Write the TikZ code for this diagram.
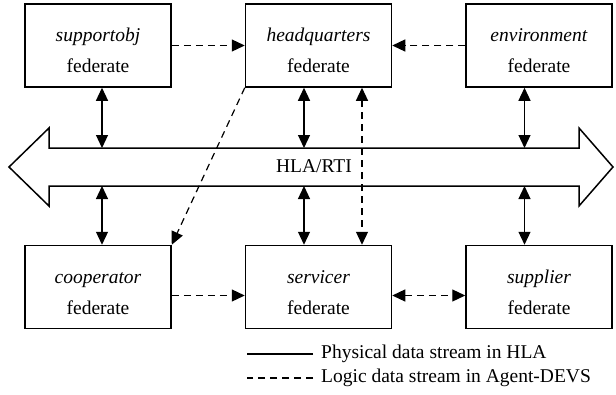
\documentclass[tikz,border=0pt]{standalone}
\usepackage{fontspec}
\setmainfont{Liberation Serif}
\usetikzlibrary{arrows.meta,calc,positioning}
\newcommand{\fedsize}{\fontsize{19.5}{31}\selectfont}
\tikzset{
 >={Triangle[length=13pt,width=12pt]},
 every node/.append style={font=\fedsize,align=center},
 fed/.style={draw,line width=1.5pt,minimum width=146pt,minimum height=83pt,inner sep=0pt,text height=54.7pt},
 phys/.style={<->,line width=1.2pt},
 logic/.style={->,line width=1.2pt,dash pattern=on 7pt off 5pt},
 bus/.style={draw,line width=1.5pt,line join=miter},
 legend/.style={anchor=west,inner sep=0pt},
}

\begin{document}
\begin{tikzpicture}[x=1pt,y=-1pt]

\useasboundingbox (0,0) rectangle (616,394);

% federates
\node[fed] (sup) at (98,45.5) {\textit{supportobj}\\federate};
\node[fed,right=73pt of sup] (hq) {\textit{headquarters}\\federate};
\node[fed,right=73pt of hq] (env) {\textit{environment}\\federate};
\node[fed,below=157pt of sup] (coop) {\textit{cooperator}\\federate};
\node[fed,below=157pt of hq] (serv) {\textit{servicer}\\federate};
\node[fed,below=157pt of env] (supl) {\textit{supplier}\\federate};

% HLA/RTI bus
\draw[bus] (9,167) -- (49,128) -- (49,148) coordinate (bandtop) -- (579,148) -- (579,128) -- (613,167)
  -- (579,206) -- (579,186) -- (49,186) coordinate (bandbot) -- (49,206) -- cycle;
\node (rti) at (314,166.5) {HLA/RTI};

% physical streams
\foreach \n/\d in {sup/4,hq/-14.5,env/-14.5}{
  \coordinate (\n-x) at ([xshift=\d pt]\n.south);
  \draw[phys] (\n-x) -- (\n-x |- bandtop);
}
\foreach \n/\d in {coop/4,serv/-14.5,supl/-14.5}{
  \coordinate (\n-x) at ([xshift=\d pt]\n.north);
  \draw[phys] (\n-x |- bandbot) -- (\n-x);
}

% logic streams
\draw[logic] (sup.east) -- (hq.west);
\draw[logic] (env.west) -- (hq.east);
\draw[logic] (hq.south west) -- (coop.north east);
\draw[logic,<->] ([xshift=43.5pt]hq.south) -- ([xshift=43.5pt]serv.north);
\draw[logic] ([yshift=-8.5pt]coop.east) -- ([yshift=-8.5pt]serv.west);
\draw[logic,<->] ([yshift=-8.5pt]serv.east) -- ([yshift=-8.5pt]supl.west);

% legend
\node[legend] (lgphys) at (321,354) {Physical data stream in HLA};
\node[legend] (lglogic) at (321,378) {Logic data stream in Agent-DEVS};
\draw[line width=1.2pt] ([xshift=-8pt]lgphys.west) -- ++(-66,0);
\draw[line width=1.2pt,dash pattern=on 7pt off 5pt] ([xshift=-8pt]lglogic.west) -- ++(-66,0);

\end{tikzpicture}
\end{document}
